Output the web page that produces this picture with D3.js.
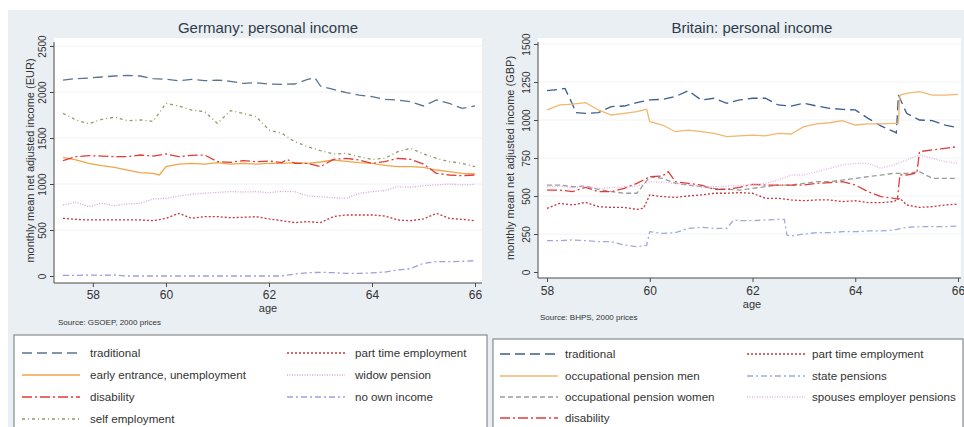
<!DOCTYPE html>
<html>
<head>
<meta charset="utf-8">
<script src="https://cdn.jsdelivr.net/npm/d3@7"></script>
<style>
  body { margin: 0; background: #fff; }
  svg { display: block; font-family: Arial, "Liberation Sans", sans-serif; }
</style>
</head>
<body>
<svg id="chart"></svg>
<script>
// age grid shared by all series (quarter years)
const ages = [58, 58.25, 58.5, 58.75, 59, 59.25, 59.5, 59.75, 60, 60.25, 60.5, 60.75,
  61, 61.25, 61.5, 61.75, 62, 62.25, 62.5, 62.75, 63, 63.25, 63.5, 63.75,
  64, 64.25, 64.5, 64.75, 65, 65.25, 65.5, 65.75, 66];

// Germany (EUR)
const deTraditional = [2130, 2145, 2152, 2163, 2174, 2181, 2174, 2145, 2138, 2123, 2138, 2123, 2130, 2116, 2094, 2101,
  2087, 2083, 2087, 2138, 2065, 2029, 1993, 1967, 1949, 1920, 1913, 1895, 1848, 1913, 1877, 1822, 1848];
const deEarly = [1290, 1261, 1225, 1199, 1181, 1152, 1123, 1116, 1188, 1217, 1225, 1217, 1232, 1217, 1225, 1217,
  1225, 1225, 1232, 1225, 1239, 1261, 1246, 1232, 1225, 1203, 1188, 1188, 1181, 1152, 1134, 1116, 1109];
const deDisability = [1254, 1297, 1308, 1304, 1297, 1297, 1315, 1304, 1326, 1297, 1312, 1315, 1243, 1236, 1254, 1243,
  1250, 1232, 1225, 1225, 1188, 1268, 1279, 1261, 1225, 1243, 1279, 1268, 1217, 1116, 1098, 1091, 1098];
const deSelf = [1768, 1696, 1655, 1703, 1725, 1688, 1696, 1681, 1877, 1848, 1804, 1786, 1659, 1797, 1768, 1732,
  1587, 1551, 1460, 1406, 1362, 1326, 1333, 1297, 1268, 1279, 1351, 1388, 1326, 1279, 1243, 1225, 1188];
const dePartTime = [627, 616, 609, 609, 609, 609, 609, 601, 627, 681, 627, 645, 645, 634, 638, 645,
  620, 601, 580, 591, 580, 645, 663, 663, 663, 652, 609, 601, 620, 681, 627, 616, 601];
const deWidow = [772, 801, 754, 790, 764, 783, 790, 837, 844, 870, 888, 899, 909, 917, 913, 917,
  906, 920, 917, 870, 862, 851, 844, 899, 917, 928, 971, 964, 982, 989, 1000, 989, 996];
const deNoIncome = [7, 7, 11, 7, 11, 0, 0, 0, 0, 0, 0, 0, 0, 0, 0, 0,
  0, 0, 22, 36, 40, 36, 29, 29, 33, 43, 65, 80, 138, 156, 156, 159, 167];
// extra [age, value] points between grid ages (spikes, steps)
const deTraditionalExtra = [[62.89, 2156]];
const deEarlyExtra = [[59.87, 1098]];
const deDisabilityExtra = [[62.35, 1268]];

// Britain (GBP)
const ukTraditional = [1193, 1202, 1100, 1044, 1048, 1088, 1092, 1114, 1132, 1136, 1154, 1193, 1132, 1143, 1110, 1132,
  1143, 1143, 1099, 1092, 1110, 1092, 1077, 1070, 1066, 1011, 961, 923, 1044, 1000, 996, 967, 950];
const ukOccMen = [1066, 1099, 1105, 1114, 1066, 1033, 1044, 1055, 989, 967, 923, 934, 923, 912, 890, 895,
  901, 895, 912, 908, 956, 974, 982, 996, 967, 974, 974, 978, 1175, 1186, 1164, 1164, 1169];
const ukOccWomen = [572, 572, 561, 565, 544, 529, 518, 518, 627, 616, 583, 572, 561, 550, 544, 539,
  550, 561, 572, 572, 583, 594, 594, 605, 616, 627, 638, 649, 649, 660, 616, 616, 616];
const ukDisability = [539, 539, 529, 557, 529, 529, 550, 583, 627, 632, 594, 583, 572, 544, 544, 557,
  577, 572, 572, 572, 572, 583, 588, 594, 572, 529, 496, 485, 638, 792, 803, 814, 825];
const ukPartTime = [419, 452, 441, 458, 430, 425, 425, 412, 507, 496, 491, 500, 507, 518, 518, 522,
  518, 485, 485, 474, 469, 474, 474, 463, 469, 456, 456, 463, 441, 425, 430, 441, 447];
const ukState = [206, 206, 211, 206, 200, 200, 178, 167, 265, 254, 259, 287, 294, 287, 287, 338,
  338, 342, 346, 237, 250, 259, 259, 265, 265, 270, 270, 276, 294, 298, 298, 298, 303];
const ukSpouses = [561, 565, 555, 561, 550, 555, 561, 565, 594, 590, 583, 575, 561, 561, 565, 570,
  575, 583, 605, 638, 638, 660, 682, 704, 715, 715, 682, 704, 737, 770, 748, 726, 715];
const ukTraditionalExtra = [[58.35, 1208], [58.56, 1048], [64.8, 915], [64.84, 1164]];
const ukOccMenExtra = [[59.94, 1070], [64.84, 978], [64.87, 1164]];
const ukDisabilityExtra = [[60.36, 660], [64.82, 480], [64.87, 640], [65.2, 652]];
const ukPartTimeExtra = [[59.88, 420], [64.87, 485]];
const ukStateExtra = [[59.94, 175], [61.63, 342], [62.62, 346], [62.67, 243]];

// axis ticks
const deYTicks = [0, 500, 1000, 1500, 2000, 2500];
const ukYTicks = [0, 250, 500, 750, 1000, 1250, 1500];
const deXTicks = [58.58, 60, 62, 64, 66];
const ukXTicks = [58, 60, 62, 64, 66];
const xTickLabels = ["58", "60", "62", "64", "66"];

const W = 964, H = 427;
const svg = d3.select("#chart").attr("width", W).attr("height", H);

svg.append("rect").attr("width", W).attr("height", H).attr("fill", "#fff");
// grey graph region (Stata s2color)
svg.append("rect").attr("x", 8).attr("y", 10).attr("width", W - 8).attr("height", H - 10).attr("fill", "#e9eff3");

const toPoints = (vals, extra) =>
  ages.map((a, i) => [a, vals[i]]).concat(extra || []).sort((a, b) => a[0] - b[0]);

const panels = [
  {
    title: "Germany: personal income",
    ytitle: "monthly mean net adjusted income (EUR)",
    source: "Source: GSOEP, 2000 prices",
    box: { x0: 54, x1: 482, y0: 38, y1: 283 },
    xDomain: [60, 66], xRange: [166, 475],
    yDomain: [0, 2500], yRange: [276, 46],
    yTicks: deYTicks, xTicks: deXTicks,
    titleX: 268, ageX: 268, ytitleX: 30, yLabX: 42, xLabY: 299, ageY: 312, sourceX: 58, sourceY: 325,
    legend: { x0: 14, x1: 487, y0: 335, cols: [22, 287], rows: [353, 375, 397, 419], labelDx: 68 },
    series: [
      { name: "traditional", vals: deTraditional, extra: deTraditionalExtra, color: "#5a7390", dash: "10,5", col: 0, row: 0 },
      { name: "early entrance, unemployment", vals: deEarly, extra: deEarlyExtra, color: "#f0a548", dash: null, col: 0, row: 1 },
      { name: "disability", vals: deDisability, extra: deDisabilityExtra, color: "#e23a36", dash: "10,3,2,3", col: 0, row: 2 },
      { name: "self employment", vals: deSelf, color: "#8f9c66", dash: "3,3,1,3", col: 0, row: 3 },
      { name: "part time employment", vals: dePartTime, color: "#c0393f", dash: "2,2", col: 1, row: 0 },
      { name: "widow pension", vals: deWidow, color: "#d6a6d8", dash: "1,1.5", col: 1, row: 1 },
      { name: "no own income", vals: deNoIncome, color: "#9d9fd8", dash: "6,3,2,3", col: 1, row: 2 }
    ]
  },
  {
    title: "Britain: personal income",
    ytitle: "monthly mean net adjusted income (GBP)",
    source: "Source: BHPS, 2000 prices",
    box: { x0: 538, x1: 961, y0: 38, y1: 278 },
    xDomain: [58, 66], xRange: [547, 958],
    yDomain: [0, 1500], yRange: [272, 44],
    yTicks: ukYTicks, xTicks: ukXTicks,
    titleX: 752, ageX: 752, ytitleX: 510, yLabX: 526, xLabY: 295, ageY: 308, sourceX: 540, sourceY: 320,
    legend: { x0: 493, x1: 963, y0: 339, cols: [500, 747], rows: [354, 376, 397, 418], labelDx: 65 },
    series: [
      { name: "traditional", vals: ukTraditional, extra: ukTraditionalExtra, color: "#3d5e8e", dash: "10,5", col: 0, row: 0 },
      { name: "occupational pension men", vals: ukOccMen, extra: ukOccMenExtra, color: "#f3b66e", dash: null, col: 0, row: 1 },
      { name: "occupational pension women", vals: ukOccWomen, color: "#9a9a9a", dash: "5,3", col: 0, row: 2 },
      { name: "disability", vals: ukDisability, extra: ukDisabilityExtra, color: "#e23a36", dash: "10,3,2,3", col: 0, row: 3 },
      { name: "part time employment", vals: ukPartTime, extra: ukPartTimeExtra, color: "#c0393f", dash: "2,2", col: 1, row: 0 },
      { name: "state pensions", vals: ukState, extra: ukStateExtra, color: "#a3a8da", dash: "6,3,2,3", col: 1, row: 1 },
      { name: "spouses employer pensions", vals: ukSpouses, color: "#e2b2e4", dash: "1,1.5", col: 1, row: 2 }
    ]
  }
];

panels.forEach(p => {
  const g = svg.append("g");
  const b = p.box;
  const x = d3.scaleLinear().domain(p.xDomain).range(p.xRange);
  const y = d3.scaleLinear().domain(p.yDomain).range(p.yRange);

  // title
  g.append("text")
    .attr("x", p.titleX).attr("y", 33)
    .attr("text-anchor", "middle")
    .attr("font-size", 15).attr("fill", "#2f3b4a")
    .text(p.title);

  // plot region
  g.append("rect")
    .attr("x", b.x0).attr("y", b.y0)
    .attr("width", b.x1 - b.x0).attr("height", b.y1 - b.y0)
    .attr("fill", "#fff");

  // grid lines
  g.selectAll(".grid")
    .data(p.yTicks.slice(1))
    .enter()
    .append("line")
    .attr("x1", b.x0).attr("x2", b.x1)
    .attr("y1", d => y(d)).attr("y2", d => y(d))
    .attr("stroke", "#eef2f4").attr("stroke-width", 1);

  // series
  const line = d3.line().x(d => x(d[0])).y(d => y(d[1]));
  p.series.forEach(s => {
    g.append("path")
      .datum(toPoints(s.vals, s.extra))
      .attr("d", line)
      .attr("fill", "none")
      .attr("stroke", s.color)
      .attr("stroke-width", 1.3)
      .attr("stroke-dasharray", s.dash);
  });

  // y axis
  const yAxis = g.append("g")
    .attr("transform", `translate(${b.x0},0)`)
    .call(d3.axisLeft(y).tickValues(p.yTicks).tickFormat(d3.format("d")).tickSize(4));
  yAxis.select(".domain").remove();
  yAxis.selectAll("line").attr("stroke", "#4a4a4a");
  yAxis.selectAll("text")
    .attr("x", null).attr("dy", null)
    .attr("text-anchor", "middle")
    .attr("transform", `translate(${p.yLabX - b.x0},0) rotate(-90)`)
    .attr("y", 4)
    .attr("font-size", 10).attr("fill", "#333")
    .style("font-family", "Arial, 'Liberation Sans', sans-serif");
  g.append("line")
    .attr("x1", b.x0).attr("x2", b.x0).attr("y1", b.y0 + 4).attr("y2", b.y1)
    .attr("stroke", "#4a4a4a");

  // x axis
  const xAxis = g.append("g")
    .attr("transform", `translate(0,${b.y1})`)
    .call(d3.axisBottom(x).tickValues(p.xTicks).tickFormat((d, i) => xTickLabels[i]).tickSize(4));
  xAxis.select(".domain").remove();
  xAxis.selectAll("line").attr("stroke", "#4a4a4a");
  xAxis.selectAll("text")
    .attr("dy", null).attr("y", p.xLabY - b.y1)
    .attr("font-size", 12).attr("fill", "#333")
    .style("font-family", "Arial, 'Liberation Sans', sans-serif");
  g.append("line")
    .attr("x1", b.x0).attr("x2", b.x1).attr("y1", b.y1).attr("y2", b.y1)
    .attr("stroke", "#4a4a4a");

  // axis titles
  g.append("text")
    .attr("x", p.ageX).attr("y", p.ageY)
    .attr("text-anchor", "middle")
    .attr("font-size", 11).attr("fill", "#333")
    .text("age");
  g.append("text")
    .attr("transform", `translate(${p.ytitleX},${(b.y0 + b.y1) / 2}) rotate(-90)`)
    .attr("text-anchor", "middle")
    .attr("dy", "0.35em")
    .attr("font-size", 11).attr("fill", "#333")
    .text(p.ytitle);

  // source note
  g.append("text")
    .attr("x", p.sourceX).attr("y", p.sourceY)
    .attr("font-size", 8).attr("fill", "#333")
    .text(p.source);

  // legend
  const L = p.legend;
  g.append("rect")
    .attr("x", L.x0).attr("y", L.y0)
    .attr("width", L.x1 - L.x0).attr("height", H - L.y0 + 5)
    .attr("fill", "#fff").attr("stroke", "#8a8a8a").attr("stroke-width", 1.2);
  const item = g.selectAll(".leg")
    .data(p.series)
    .enter()
    .append("g")
    .attr("transform", s => `translate(${L.cols[s.col]},${L.rows[s.row]})`);
  item.append("line")
    .attr("x1", 0).attr("x2", 58).attr("y1", 0).attr("y2", 0)
    .attr("stroke", s => s.color)
    .attr("stroke-width", 1.6)
    .attr("stroke-dasharray", s => s.dash);
  item.append("text")
    .attr("x", L.labelDx).attr("dy", "0.35em")
    .attr("font-size", 11.6).attr("fill", "#333")
    .text(s => s.name);
});
</script>
</body>
</html>
